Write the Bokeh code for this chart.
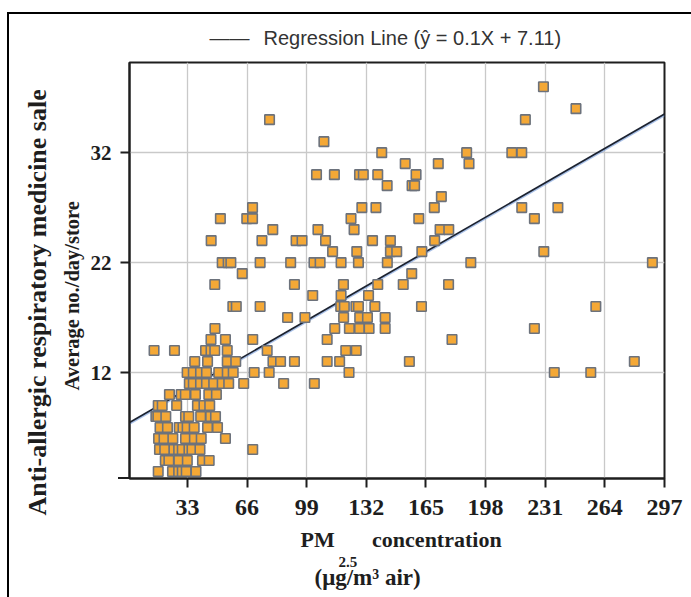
from bokeh.plotting import figure
from bokeh.models import (FixedTicker, Range1d, Title)
from bokeh.embed import file_html
from bokeh.resources import INLINE

# ---------------- data ----------------
pm25 = [
    230,
    248,
    78.4, 220,
    108.5,
    140.5, 187.5, 212.5, 218,
    153.5, 171.8, 188.8,
    104.4, 114.3, 128.2, 130.3, 138.3, 159.5,
    143.5, 157.3, 158.7,
    173.5,
    69, 129.5, 137.3, 169.6, 218, 238,
    51.2, 65.8, 69, 123.5, 161, 225,
    80.2, 105.2, 125.2, 172.8, 177.6,
    46.1, 74.2, 93.1, 96.4, 109.4, 135.4, 145.3, 169.8,
    113.3, 126.7, 145.3, 148.8, 162.7, 230.2,
    52.2, 55.5, 57, 73.2, 90.1, 103, 106.4, 118, 127.6, 143.6, 189.8, 290.3,
    63.3, 157.1,
    48.1, 92.2, 119.3, 138.3, 152.4, 177.5,
    102.3, 118, 133.2,
    58.1, 60, 73.2, 117.8, 119.8, 126.2, 127.6, 136.7, 162.5, 259,
    88.4, 98, 119.4, 128.3, 132.6, 142.4,
    48.2, 114.5, 122.6, 128.2, 133.5, 142.4, 225,
    46, 54, 69.1, 110.3, 179.4,
    14.5, 25.8, 43, 46, 48.1, 55, 77.1, 120.6, 126.4,
    37, 44.1, 55, 59.7, 80.3, 84.5, 92.2, 110.3, 117.2, 155.8, 280.3,
    32.8, 36.2, 40.2, 43.5, 50.3, 55, 58.3, 69.9, 78.2, 122.4, 236, 256.2,
    34, 36.2, 40.2, 43.5, 47.5, 52.2, 55.8, 64.1, 86.2, 103.2,
    23, 29.5, 31.8, 37.4, 44.8, 49,
    16.8, 19, 27, 38.5, 42.1, 45.3,
    15.5, 16.6, 21, 31.9, 33.7, 40.3, 45.8, 48.5,
    17.8, 21.9, 28.4, 30.5, 32.8, 36.7, 44.1, 49.6,
    17, 20, 24.9, 31.9, 36.8, 40.6, 54,
    17.5, 20.4, 25.5, 28.1, 30.1, 33.8, 35.5, 39.9, 69.1,
    20.7, 22.7, 28.2, 32.9, 41.3, 45,
    16.8, 24.7, 28.1, 30.1, 32.3, 37.7,
]
sales = (
    [38] * 1 + [36] * 1 + [35] * 2 + [33] * 1 + [32] * 4 + [31] * 3 + [30] * 6 +
    [29] * 3 + [28] * 1 + [27] * 6 + [26] * 6 + [25] * 5 + [24] * 8 + [23] * 6 +
    [22] * 12 + [21] * 2 + [20] * 6 + [19] * 3 + [18] * 10 + [17] * 6 + [16] * 7 +
    [15] * 5 + [14] * 9 + [13] * 11 + [12] * 12 + [11] * 10 + [10] * 6 + [9] * 6 +
    [8] * 8 + [7] * 8 + [6] * 7 + [5] * 9 + [4] * 6 + [3] * 6
)

x_ticks = [33, 66, 99, 132, 165, 198, 231, 264, 297]
y_ticks = [12, 22, 32]

# regression line as it is drawn in the reference
line_slope = 0.0948
line_intercept = 7.36
legend_text = "\u2014\u2014\u2002\u2009Regression Line (\u0177 = 0.1X + 7.11)"

y_title_1 = "Anti-allergic respiratory medicine sale"
y_title_2 = "Average no./day/store"
x_title_1 = "PM\u2003\u2002\u2009concentration"
x_title_sub = "2.5"
x_title_2 = "(\u03bcg/m\u00b3 air)"

# ---------------- layout ----------------
W, H = 691, 597
FL, FR, FT, FB = 129, 664, 62, 478   # frame edges in canvas px

p = figure(width=W, height=H, x_range=Range1d(0.9, 297), y_range=Range1d(2.36, 40.2),
           output_backend="svg", toolbar_location=None,
           min_border_left=FL, min_border_right=W - FR,
           min_border_top=FT, min_border_bottom=H - FB)
p.background_fill_color = "white"
p.border_fill_alpha = 0
p.outline_line_color = "#1e1e1e"
p.outline_line_width = 2
# page frame lines (left and top) drawn behind the transparent border area
p.styles = {
    "background": ("linear-gradient(#000,#000) 7px 12px / 2px 100% no-repeat, "
                   "linear-gradient(#000,#000) 7px 12px / 100% 2px no-repeat, "
                   "linear-gradient(#1e1e1e,#1e1e1e) 118px 477px / 12px 2px no-repeat, white"),
}

p.xaxis.ticker = FixedTicker(ticks=x_ticks)
p.yaxis.ticker = FixedTicker(ticks=y_ticks)
for ax in (p.xaxis[0], p.yaxis[0]):
    ax.minor_tick_line_color = None
    ax.major_tick_out = 9
    ax.major_tick_in = 0
    ax.major_tick_line_color = "#1e1e1e"
    ax.major_tick_line_width = 2
    ax.axis_line_color = "#1e1e1e"
    ax.axis_line_width = 2
    ax.major_label_text_font = "Liberation Serif"
    ax.major_label_text_font_style = "bold"
    ax.major_label_text_color = "#1e1e1e"
p.xaxis.major_label_text_font_size = "24px"
p.yaxis.major_label_text_font_size = "21px"
p.xaxis.major_label_standoff = 12
p.yaxis.major_label_standoff = 9

p.grid.grid_line_color = "#c9c9c9"
p.grid.grid_line_width = 1.3
p.xgrid.ticker = FixedTicker(ticks=x_ticks)
p.ygrid.ticker = FixedTicker(ticks=y_ticks)

# regression line
lx = [p.x_range.start, p.x_range.end]
ly = [line_slope * v + line_intercept for v in lx]
p.line(lx, [v - 0.12 for v in ly], line_color="#6f98d8", line_width=2, line_alpha=0.6)
p.line(lx, ly, line_color="#1b2230", line_width=1.7)

# scatter points
p.scatter(pm25, sales, marker="square", size=9.5, fill_color="#F4A836",
          line_color="#6c727c", line_width=1.6)

# legend text above the frame
p.add_layout(Title(text=legend_text, align="left", offset=209 - FL, standoff=28,
                   text_font="Liberation Sans", text_font_style="normal",
                   text_font_size="20px", text_color="#333333"), "above")

serif = "Liberation Serif"
# y axis titles (left panel, first added is nearest to the axis);
# align "left" starts the text at frame bottom minus offset
p.add_layout(Title(text=y_title_2, align="left", offset=FB - 390, standoff=10,
                   text_font=serif, text_font_style="bold", text_font_size="20.5px",
                   text_color="#1e1e1e"), "left")
p.add_layout(Title(text=y_title_1, align="left", offset=FB - 515, standoff=4,
                   text_font=serif, text_font_style="bold", text_font_size="26px",
                   text_color="#1e1e1e"), "left")
# x axis titles (below panel)
p.add_layout(Title(text=x_title_1, align="left", offset=300 - FL, standoff=14,
                   text_font=serif, text_font_style="bold", text_font_size="22px",
                   text_color="#1e1e1e"), "below")
p.add_layout(Title(text=x_title_sub, align="left", offset=338 - FL, standoff=-16,
                   text_font=serif, text_font_style="bold", text_font_size="15px",
                   text_color="#1e1e1e"), "below")
p.add_layout(Title(text=x_title_2, align="left", offset=314 - FL, standoff=8,
                   text_font=serif, text_font_style="bold", text_font_size="23px",
                   text_color="#1e1e1e"), "below")

open("out.html", "w").write(file_html(p, INLINE))
